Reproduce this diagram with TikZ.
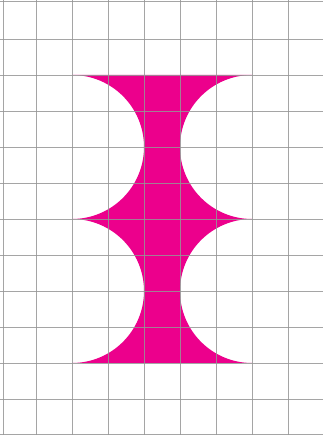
\documentclass[tikz,border=0pt]{standalone}
\usepackage{tikz}
\definecolor{shapepink}{RGB}{236,0,140}
\definecolor{gridgray}{RGB}{150,150,150}
\tikzset{
  gridline/.style={draw=gridgray, line width=0.9pt, opacity=0.85},
  hourglass/.style={fill=shapepink, draw=none}
}
\begin{document}
\begin{tikzpicture}[x=1pt,y=1pt]
\useasboundingbox[fill=white] (0,0) rectangle (323,435);
% magenta shape
\path[hourglass] (72,360) -- (252,360)
  arc[start angle=90, end angle=270, radius=72pt]
  arc[start angle=90, end angle=270, radius=72pt]
  -- (72,72)
  arc[start angle=-90, end angle=90, radius=72pt]
  arc[start angle=-90, end angle=90, radius=72pt]
  -- cycle;
% grid
\foreach \xx in {3,36,72,108,144,180,216,252,288.5}
  \draw[gridline] (\xx,0) -- (\xx,435);
\foreach \yy in {433.5,396,360,324,288,252,216,180,144,108,72,36,1}
  \draw[gridline] (0,\yy) -- (323,\yy);
\end{tikzpicture}
\end{document}
